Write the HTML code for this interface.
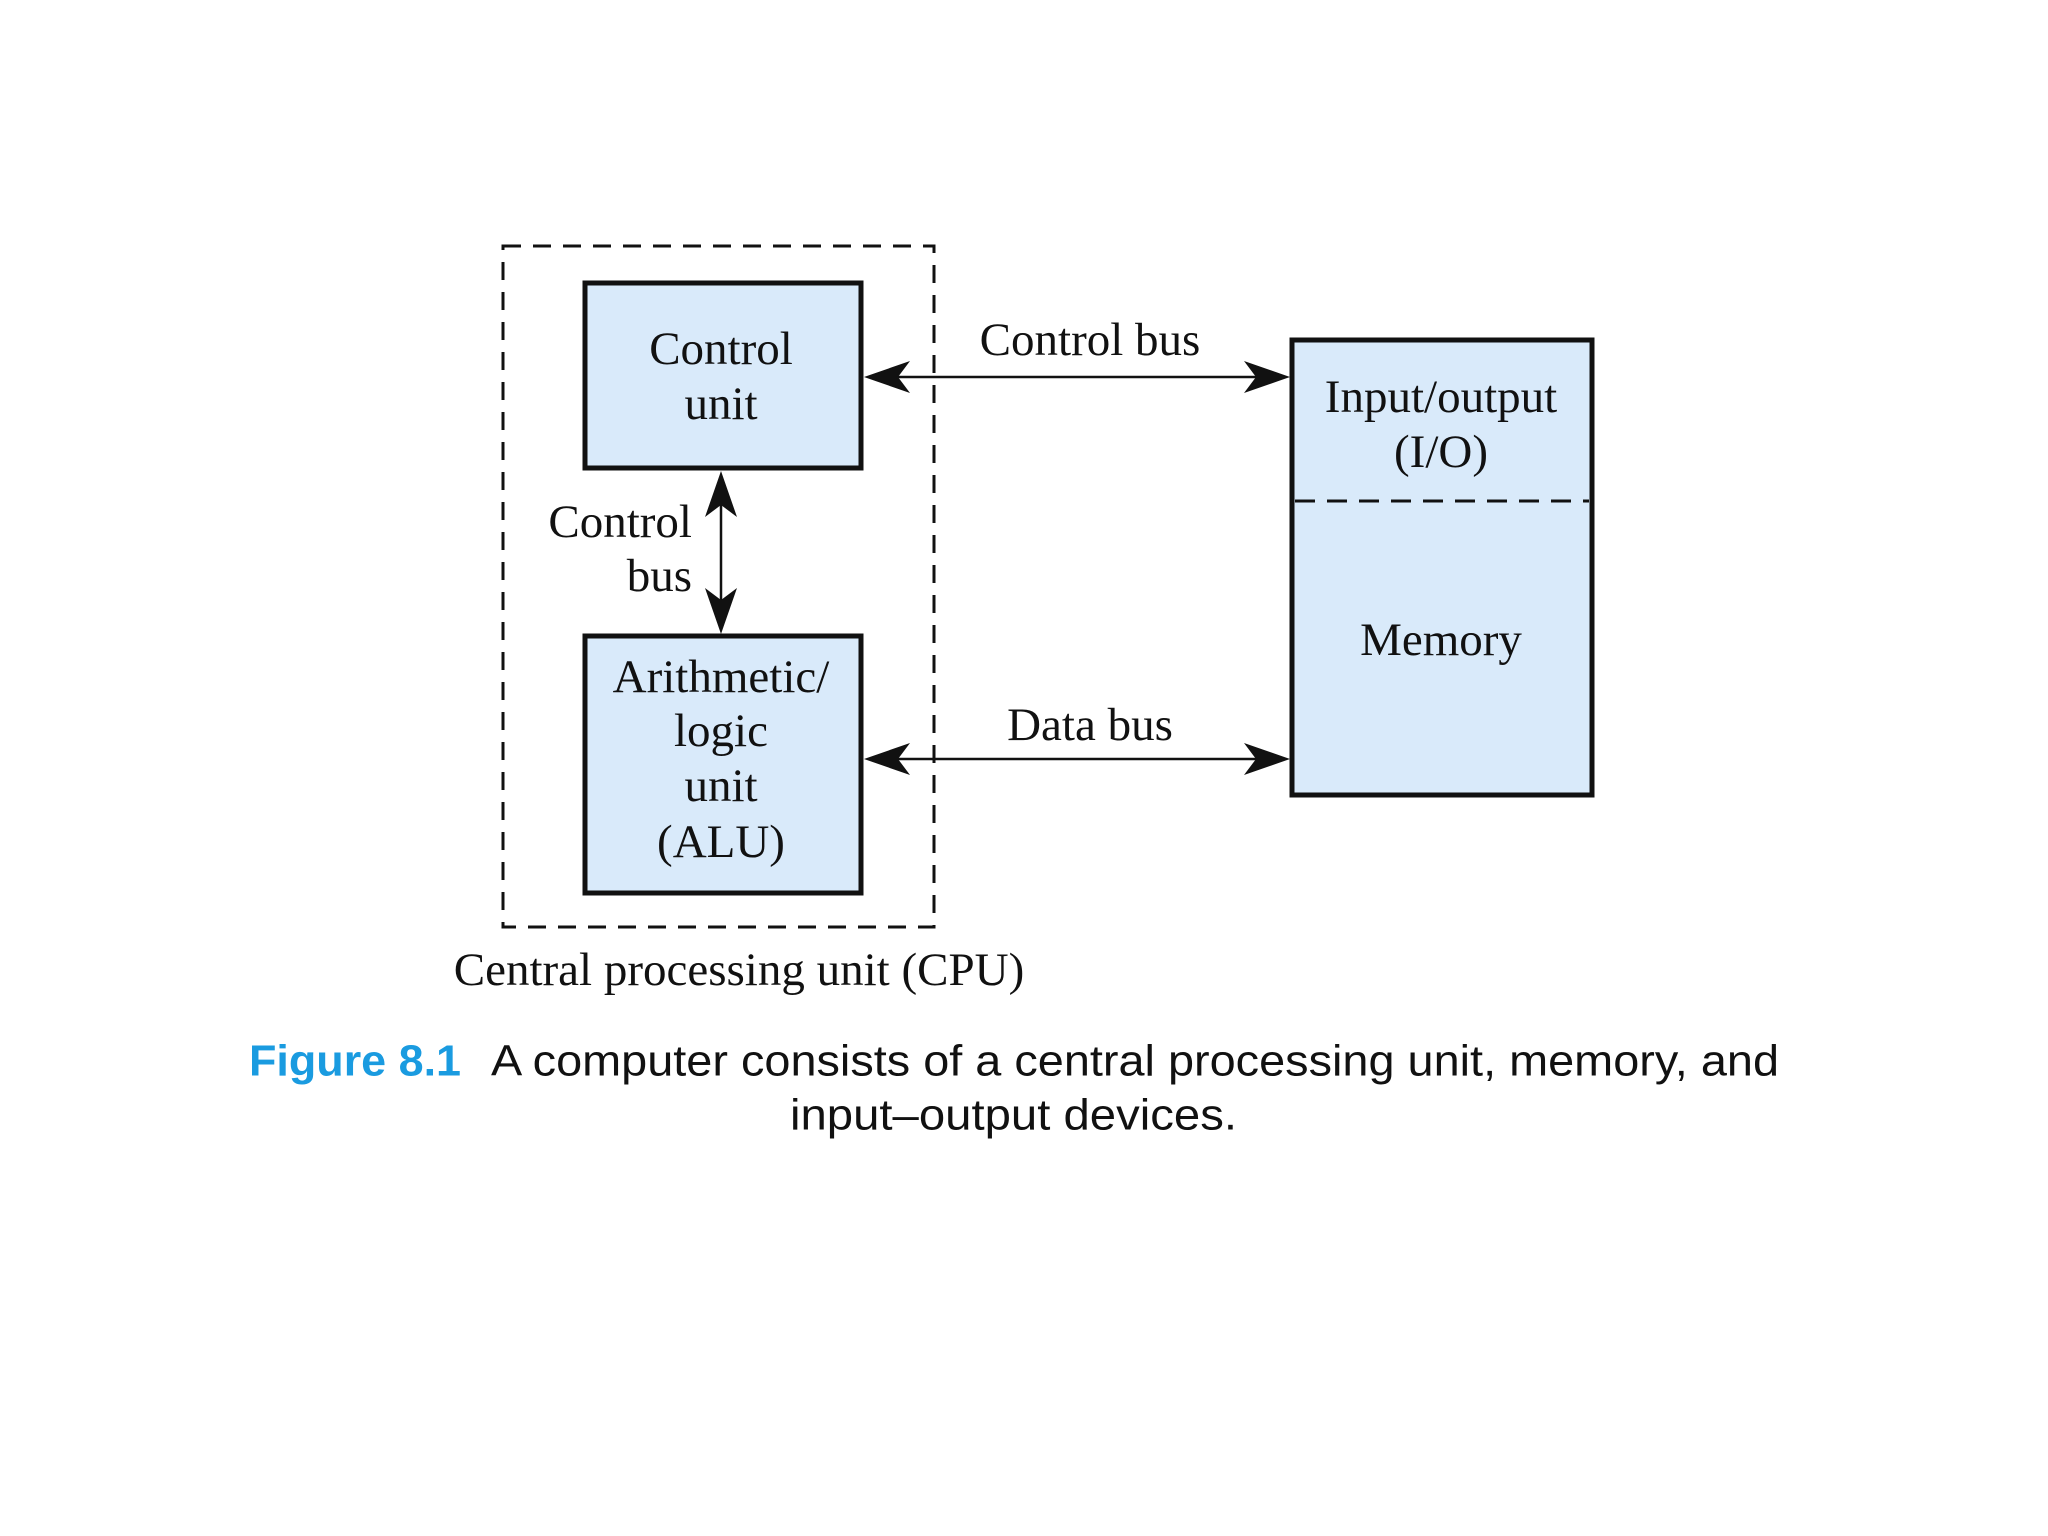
<!DOCTYPE html>
<html><head><meta charset="utf-8"><style>
html,body{margin:0;padding:0;background:#fff;}
svg{display:block;}
.s{font-family:"Liberation Serif",serif;font-size:47px;fill:#111;}
.c{font-family:"Liberation Sans",sans-serif;font-size:44px;fill:#111;}
</style></head><body>
<svg width="2048" height="1536" viewBox="0 0 2048 1536" xmlns="http://www.w3.org/2000/svg">
<rect x="0" y="0" width="2048" height="1536" fill="#fff"/>
<rect x="503" y="246" width="431" height="681" fill="none" stroke="#111" stroke-width="3" stroke-dasharray="18,12"/>
<rect x="585" y="283" width="276" height="185" fill="#d9eafa" stroke="#111" stroke-width="5"/>
<rect x="585" y="636" width="276" height="257" fill="#d9eafa" stroke="#111" stroke-width="5"/>
<rect x="1292" y="340" width="300" height="455" fill="#d9eafa" stroke="#111" stroke-width="5"/>
<line x1="1295" y1="501" x2="1589" y2="501" stroke="#111" stroke-width="3" stroke-dasharray="20,12"/>
<g stroke="#111" stroke-width="2.5">
<line x1="870" y1="377" x2="1280" y2="377"/>
<line x1="870" y1="759" x2="1280" y2="759"/>
<line x1="721" y1="480" x2="721" y2="624"/>
</g>
<g fill="#111">
<path d="M864,377 L910,361 L898,377 L910,393 Z"/>
<path d="M1290,377 L1244,361 L1256,377 L1244,393 Z"/>
<path d="M864,759 L910,743 L898,759 L910,775 Z"/>
<path d="M1290,759 L1244,743 L1256,759 L1244,775 Z"/>
<path d="M721,471 L705,517 L721,505 L737,517 Z"/>
<path d="M721,634 L705,588 L721,600 L737,588 Z"/>
</g>
<g class="s" text-anchor="middle" dominant-baseline="central">
<text x="721" y="349">Control</text>
<text x="721" y="404">unit</text>
<text x="721" y="677">Arithmetic/</text>
<text x="721" y="731">logic</text>
<text x="721" y="786">unit</text>
<text x="721" y="842">(ALU)</text>
<text x="1441" y="397">Input/output</text>
<text x="1441" y="452">(I/O)</text>
<text x="1441" y="640">Memory</text>
<text x="1090" y="340">Control bus</text>
<text x="1090" y="725">Data bus</text>
<text x="739" y="970">Central processing unit (CPU)</text>
</g>
<g class="s" text-anchor="end" dominant-baseline="central">
<text x="692" y="522">Control</text>
<text x="692" y="576">bus</text>
</g>
<g class="c" dominant-baseline="central">
<text x="249" y="1061" style="fill:#1a9be0;font-weight:bold" textLength="212" lengthAdjust="spacingAndGlyphs">Figure 8.1</text>
<text x="491" y="1061" textLength="1288" lengthAdjust="spacingAndGlyphs">A computer consists of a central processing unit, memory, and</text>
<text x="790" y="1115" textLength="447" lengthAdjust="spacingAndGlyphs">input–output devices.</text>
</g>
</svg>
</body></html>
